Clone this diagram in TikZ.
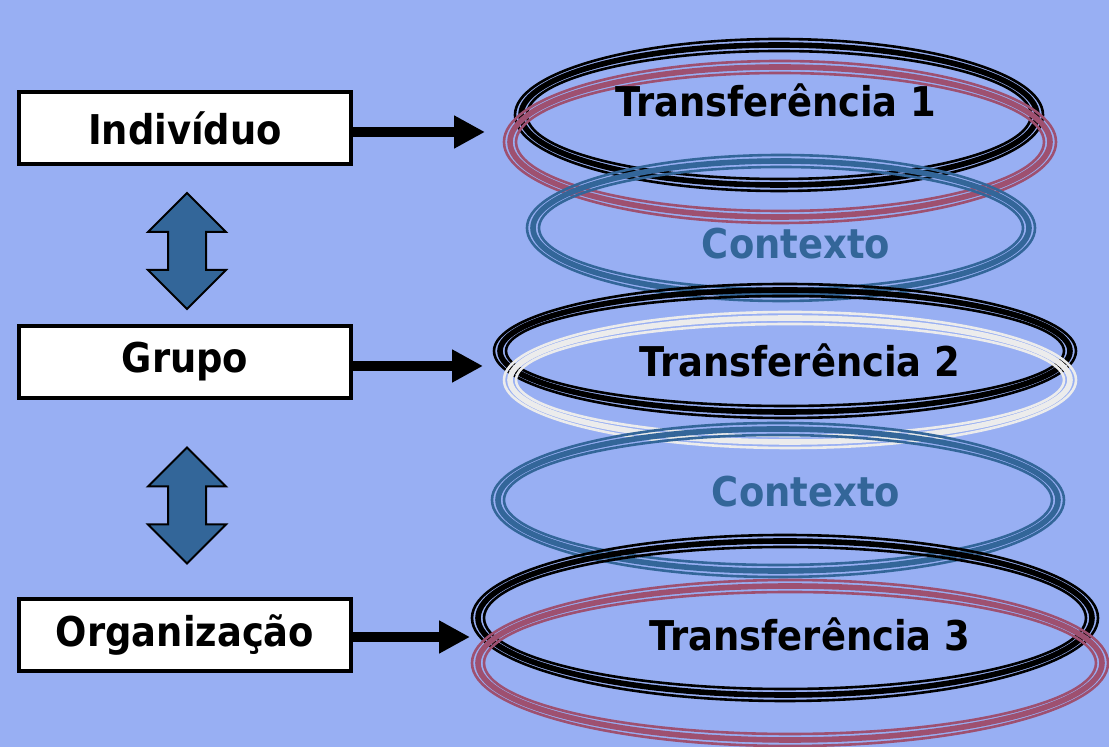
\documentclass[tikz,border=0pt]{standalone}
\usepackage{fontspec}
\setmainfont{DejaVu Sans Condensed}
\usepackage{xcolor}
\usepackage{tikz}
\usetikzlibrary{shapes,arrows.meta,positioning,calc}

\definecolor{fundo}{RGB}{152,175,243}
\definecolor{azul}{RGB}{51,102,153}
\definecolor{vinho}{RGB}{158,80,112}
\definecolor{cinza}{RGB}{236,236,236}

\begin{document}
\begin{tikzpicture}[
    x=0.5pt, y=-0.5pt,
    nivel/.style={
        draw,
        line width=2.2pt,
        fill=white,
        minimum width=166pt,
        minimum height=36pt,
        inner sep=0pt,
        font=\fontsize{20.5}{24}\selectfont\bfseries
        },
    rotulo/.style={
        anchor=base,
        font=\fontsize{20.5}{24}\selectfont\bfseries
        },
    seta/.style={
        line width=5pt,
        -{Triangle[length=15.5pt,width=15.5pt]}
        },
    vaivem/.style={
        shape=double arrow,
        draw,
        line width=1pt,
        fill=azul,
        rotate=90,
        minimum height=58pt,
        inner xsep=0pt,
        inner ysep=9pt,
        double arrow head extend=10pt,
        double arrow head indent=0pt
        }
    ]

                \path[use as bounding box, fill=fundo] (0,0) rectangle (1109,747);
                \clip (0,0) rectangle (1109,747);

                % aneis: preto, vinho, azul, preto, cinza, azul, preto, vinho
                \foreach \cor/\cx/\cy/\rx/\ry in {
                    black/779/115/258/70,
                    vinho/780/142/270/75,
                    azul/781/228/248/67,
                    black/785/351/285/61,
                    cinza/790/380/280/62,
                    azul/778/500/280/71,
                    black/785/618/307/77,
                    vinho/790/663/312/77}
                {
                    \foreach \d/\w in {6/1.3pt, 0/2.8pt, -6/1.3pt}
                        \draw[\cor, line width=\w] (\cx,\cy) ellipse ({\rx+(\d)} and {\ry+(\d)});
                }

                \node[nivel] (indiv) at (185,128) {Indivíduo};
                \node[nivel] (grupo) at (185,362) {Grupo};
                \node[nivel] (org) at (185,635) {Organização};

                \node[vaivem] (v1) at ($(indiv.south)!0.5!(grupo.north)+(2,6)$) {};
                \node[vaivem] (v2) at ($(grupo.south)!0.5!(org.north)+(2,7)$) {};

                \coordinate (p1) at (485,132);
                \coordinate (p2) at (483,366);
                \coordinate (p3) at (470,637);

                \draw[seta] (indiv.east |- p1) -- (p1);
                \draw[seta] (grupo.east |- p2) -- (p2);
                \draw[seta] (org.east |- p3) -- (p3);

                \node[rotulo] (t1) at (776,117) {Transferência 1};
                \node[rotulo, text=azul] (c1) at (796,259) {Contexto};
                \node[rotulo] (t2) at (800,377) {Transferência 2};
                \node[rotulo, text=azul] (c2) at (806,507) {Contexto};
                \node[rotulo] (t3) at (810,651) {Transferência 3};

\end{tikzpicture}
\end{document}
